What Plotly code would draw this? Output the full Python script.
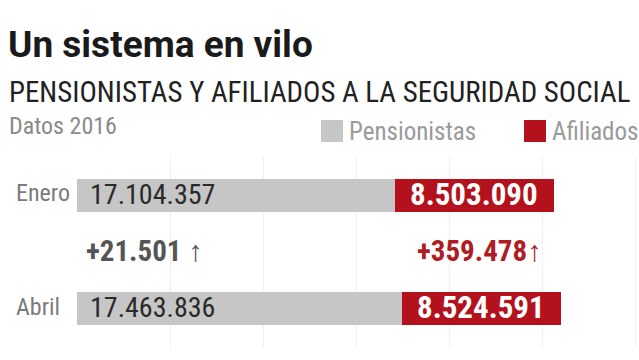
import plotly.graph_objects as go

months = ["Enero", "Abril"]
pensionistas = [17104357, 17463836]
afiliados = [8503090, 8524591]
change_labels = ["+21.501 ↑", "+359.478↑"]
title = "Un sistema en vilo"
subtitle = "PENSIONISTAS Y AFILIADOS A LA SEGURIDAD SOCIAL"
note = "Datos 2016"
series_names = ["Pensionistas", "Afiliados"]

GRAY = "#c6c6c6"
RED = "#b3121c"
COND = "Roboto Condensed, Roboto, sans-serif"
BOLD = "Roboto, sans-serif"

W, H = 639, 360
L, R, T, B = 77, 0, 157, 13
PW, PH = W - L - R, H - T - B


def px(x):
    return (x - L) / PW


def py(y):
    return 1 - (y - T) / PH


def fmt(v):
    return f"{v:,}".replace(",", ".")


ypos = list(range(len(months)))

fig = go.Figure()
fig.add_trace(go.Bar(y=ypos, x=pensionistas, orientation="h", width=0.292,
                     marker=dict(color=GRAY, line=dict(width=0)), name=series_names[0],
                     hoverinfo="skip"))
fig.add_trace(go.Bar(y=ypos, x=afiliados, orientation="h", width=0.292,
                     base=pensionistas,
                     marker=dict(color=RED, line=dict(width=0)), name=series_names[1],
                     hoverinfo="skip"))

ann = []
ann.append(dict(text=f"<b>{title}</b>", x=px(6), y=py(44), xref="paper", yref="paper",
                xanchor="left", yanchor="middle", showarrow=False,
                font=dict(family=BOLD, size=37, color="#1a1a1a")))
ann.append(dict(text=subtitle, x=px(7), y=py(92), xref="paper", yref="paper",
                xanchor="left", yanchor="middle", showarrow=False,
                font=dict(family=COND, size=28.9, color="#222222")))
ann.append(dict(text=note, x=px(7), y=py(126), xref="paper", yref="paper",
                xanchor="left", yanchor="middle", showarrow=False,
                font=dict(family=COND, size=24, color="#8a8a8a")))
for xs, col, name in [(321, GRAY, series_names[0]), (524, RED, series_names[1])]:
    fig.add_shape(type="rect", xref="paper", yref="paper",
                  x0=px(xs), x1=px(xs + 22), y0=py(120), y1=py(142),
                  fillcolor=col, line=dict(width=0), layer="above")
    ann.append(dict(text=name, x=px(xs + 26), y=py(131), xref="paper", yref="paper",
                    xanchor="left", yanchor="middle", showarrow=False,
                    font=dict(family=COND, size=25, color="#9a9a9a")))

for i, m in enumerate(months):
    ann.append(dict(text=m, x=px(14), y=i, xref="paper", yref="y", xanchor="left",
                    yanchor="middle", yshift=2, showarrow=False,
                    font=dict(family=COND, size=24, color="#7a7a7a")))
    ann.append(dict(text=fmt(pensionistas[i]), x=0, y=i, xref="x", yref="y",
                    xanchor="left", yanchor="middle", xshift=11, yshift=1, showarrow=False,
                    font=dict(family=COND, size=28, color="#2a2a2a")))
    ann.append(dict(text=f"<b>{fmt(afiliados[i])}</b>", x=pensionistas[i] + afiliados[i] / 2,
                    y=i, xref="x", yref="y", xanchor="center", yanchor="middle",
                    yshift=1, showarrow=False,
                    font=dict(family=COND, size=31, color="white")))

mid = (ypos[0] + ypos[1]) / 2
ann.append(dict(text=f"<b>{change_labels[0]}</b>", x=0, y=mid, xref="x", yref="y",
                xanchor="left", yanchor="middle", xshift=7, yshift=1, showarrow=False,
                font=dict(family=COND, size=29, color="#555555")))
red_center = sum(p + a / 2 for p, a in zip(pensionistas, afiliados)) / len(months)
ann.append(dict(text=f"<b>{change_labels[1]}</b>", x=red_center, y=mid, xref="x", yref="y",
                xanchor="center", yanchor="middle", xshift=2, yshift=1, showarrow=False,
                font=dict(family=COND, size=29, color="#b01c24")))

fig.update_layout(
    width=W, height=H, margin=dict(l=L, r=R, t=T, b=B),
    paper_bgcolor="white", plot_bgcolor="white",
    barmode="stack", showlegend=False, annotations=ann,
    xaxis=dict(range=[0, 30200000], tickvals=[0, 5e6, 10e6, 15e6, 20e6, 25e6, 30e6],
               showticklabels=False, showgrid=True, gridcolor="#f1f1f1", gridwidth=1,
               zeroline=False, showline=False, fixedrange=True),
    yaxis=dict(range=[1.34, -0.34], showticklabels=False, showgrid=False,
               zeroline=False, showline=False, fixedrange=True),
)

fig.write_html("out.html", config={"displayModeBar": False},
               post_script="document.body.style.margin='0';")
